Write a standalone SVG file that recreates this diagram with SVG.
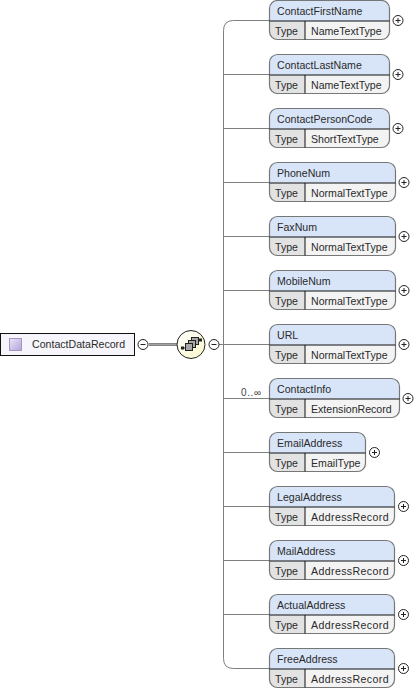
<svg xmlns="http://www.w3.org/2000/svg" width="416" height="694" viewBox="0 0 416 694">
<style>
text{font-family:"Liberation Sans",Arial,sans-serif;font-size:10.6px;fill:#2a2a2a}
.l{fill:none;stroke:#7f7f7f;stroke-width:1}
.o{fill:none;stroke:#777;stroke-width:1.2}
.d{stroke:#111;stroke-width:1;fill:none}
.t{fill:#d8e5f8}
.b{fill:#f3f3f3}
.k{fill:#e2e2e2}
.c{fill:#fff;stroke:#222;stroke-width:1}
.s{stroke:#222;stroke-width:1;fill:none}
.ar{letter-spacing:.38px}
</style>
<defs>
<g id="plus"><circle class="c" cx=".5" cy=".5" r="5"/><path class="s" d="M-2 .5H3M.5-2V3"/></g>
<g id="minus"><circle class="c" cx=".5" cy=".5" r="5"/><path class="s" d="M-2 .5H3"/></g>
<linearGradient id="ic" x1="0" y1="0" x2="1" y2="1"><stop offset="0" stop-color="#ece6f8"/><stop offset="1" stop-color="#b4a0d8"/></linearGradient>
<linearGradient id="sq" x1="0" y1="0" x2="1" y2="1"><stop offset="0" stop-color="#ffffff"/><stop offset="1" stop-color="#faf6c8"/></linearGradient>
</defs>
<g id="connectors">
<path class="l" d="M269 20.500H233.500Q223.500 20.500 223.500 30.500V658.500Q223.500 668.500 233.500 668.500H269"/>
<path class="l" d="M223.500 74.500H269M223.500 128.500H269M223.500 182.500H269M223.500 236.500H269M223.500 290.500H269M223.500 344.500H269M223.500 398.500H269M223.500 452.500H269M223.500 506.500H269M223.500 560.500H269M223.500 614.500H269"/>
<path d="M149 344.500H178" fill="none" stroke="#666" stroke-width="2.6"/>
<path d="M149 344.500H178" fill="none" stroke="#bbb" stroke-width="0.7"/>
<path class="l" d="M219 344.500H223"/>
<text x="241" y="395.500" style="font-size:10px;fill:#444;letter-spacing:.6px">0..∞</text>
</g>
<g id="ContactDataRecord">
<rect x="0.500" y="333.500" width="134" height="22" fill="#f7f5fc" stroke="#111"/>
<rect x="9.500" y="338.500" width="12" height="12" fill="url(#ic)" stroke="#a594c8"/>
<text x="32" y="348">ContactDataRecord</text>
<use href="#minus" x="142.500" y="344"/>
</g>
<g id="sequence">
<circle cx="191" cy="344.500" r="14" fill="url(#sq)" stroke="#222" stroke-width="1"/>
<path d="M182 348H186M196 340H201" stroke="#222" stroke-width="1" fill="none"/>
<rect x="181" y="346.500" width="3" height="3" fill="#222"/>
<rect x="199" y="338.500" width="3" height="3" fill="#222"/>
<rect x="191.500" y="337.500" width="7" height="7" fill="#a8a8a8" stroke="#222"/>
<rect x="188.500" y="340.500" width="7" height="7" fill="#a8a8a8" stroke="#222"/>
<rect x="185.500" y="343.500" width="7" height="7" fill="#a8a8a8" stroke="#222"/>
<use href="#minus" x="213.500" y="344"/>
</g>
<g id="ContactFirstName" transform="translate(0 0)"><path class="t" d="M269.500 21V8Q269.500 .5 277 .5H382Q389.500 .5 389.500 8V21Z"/><path class="k" d="M269.500 21H305V39.500H277Q269.500 39.500 269.500 32Z"/><path class="b" d="M305 21H389.500V32Q389.500 39.500 382 39.500H305Z"/><rect class="o" x="269.500" y=".5" width="120" height="39" rx="8"/><path class="d" d="M269.500 21H389.500M305 21V39.500"/><text x="277" y="15">ContactFirstName</text><text x="275" y="35">Type</text><text x="311" y="35">NameTextType</text><use href="#plus" x="397.500" y="20"/></g>
<g id="ContactLastName" transform="translate(0 54)"><path class="t" d="M269.500 21V8Q269.500 .5 277 .5H382Q389.500 .5 389.500 8V21Z"/><path class="k" d="M269.500 21H305V39.500H277Q269.500 39.500 269.500 32Z"/><path class="b" d="M305 21H389.500V32Q389.500 39.500 382 39.500H305Z"/><rect class="o" x="269.500" y=".5" width="120" height="39" rx="8"/><path class="d" d="M269.500 21H389.500M305 21V39.500"/><text x="277" y="15">ContactLastName</text><text x="275" y="35">Type</text><text x="311" y="35">NameTextType</text><use href="#plus" x="397.500" y="20"/></g>
<g id="ContactPersonCode" transform="translate(0 108)"><path class="t" d="M269.500 21V8Q269.500 .5 277 .5H382Q389.500 .5 389.500 8V21Z"/><path class="k" d="M269.500 21H305V39.500H277Q269.500 39.500 269.500 32Z"/><path class="b" d="M305 21H389.500V32Q389.500 39.500 382 39.500H305Z"/><rect class="o" x="269.500" y=".5" width="120" height="39" rx="8"/><path class="d" d="M269.500 21H389.500M305 21V39.500"/><text x="277" y="15">ContactPersonCode</text><text x="275" y="35">Type</text><text x="311" y="35">ShortTextType</text><use href="#plus" x="397.500" y="20"/></g>
<g id="PhoneNum" transform="translate(0 162)"><path class="t" d="M269.500 21V8Q269.500 .5 277 .5H388Q395.500 .5 395.500 8V21Z"/><path class="k" d="M269.500 21H305V39.500H277Q269.500 39.500 269.500 32Z"/><path class="b" d="M305 21H395.500V32Q395.500 39.500 388 39.500H305Z"/><rect class="o" x="269.500" y=".5" width="126" height="39" rx="8"/><path class="d" d="M269.500 21H395.500M305 21V39.500"/><text x="277" y="15">PhoneNum</text><text x="275" y="35">Type</text><text x="311" y="35">NormalTextType</text><use href="#plus" x="403.500" y="20"/></g>
<g id="FaxNum" transform="translate(0 216)"><path class="t" d="M269.500 21V8Q269.500 .5 277 .5H388Q395.500 .5 395.500 8V21Z"/><path class="k" d="M269.500 21H305V39.500H277Q269.500 39.500 269.500 32Z"/><path class="b" d="M305 21H395.500V32Q395.500 39.500 388 39.500H305Z"/><rect class="o" x="269.500" y=".5" width="126" height="39" rx="8"/><path class="d" d="M269.500 21H395.500M305 21V39.500"/><text x="277" y="15">FaxNum</text><text x="275" y="35">Type</text><text x="311" y="35">NormalTextType</text><use href="#plus" x="403.500" y="20"/></g>
<g id="MobileNum" transform="translate(0 270)"><path class="t" d="M269.500 21V8Q269.500 .5 277 .5H388Q395.500 .5 395.500 8V21Z"/><path class="k" d="M269.500 21H305V39.500H277Q269.500 39.500 269.500 32Z"/><path class="b" d="M305 21H395.500V32Q395.500 39.500 388 39.500H305Z"/><rect class="o" x="269.500" y=".5" width="126" height="39" rx="8"/><path class="d" d="M269.500 21H395.500M305 21V39.500"/><text x="277" y="15">MobileNum</text><text x="275" y="35">Type</text><text x="311" y="35">NormalTextType</text><use href="#plus" x="403.500" y="20"/></g>
<g id="URL" transform="translate(0 324)"><path class="t" d="M269.500 21V8Q269.500 .5 277 .5H388Q395.500 .5 395.500 8V21Z"/><path class="k" d="M269.500 21H305V39.500H277Q269.500 39.500 269.500 32Z"/><path class="b" d="M305 21H395.500V32Q395.500 39.500 388 39.500H305Z"/><rect class="o" x="269.500" y=".5" width="126" height="39" rx="8"/><path class="d" d="M269.500 21H395.500M305 21V39.500"/><text x="277" y="15">URL</text><text x="275" y="35">Type</text><text x="311" y="35">NormalTextType</text><use href="#plus" x="403.500" y="20"/></g>
<g id="ContactInfo" transform="translate(0 378)"><path class="t" d="M269.500 21V8Q269.500 .5 277 .5H392Q399.500 .5 399.500 8V21Z"/><path class="k" d="M269.500 21H305V39.500H277Q269.500 39.500 269.500 32Z"/><path class="b" d="M305 21H399.500V32Q399.500 39.500 392 39.500H305Z"/><rect class="o" x="269.500" y=".5" width="130" height="39" rx="8"/><path class="d" d="M269.500 21H399.500M305 21V39.500"/><text x="277" y="15">ContactInfo</text><text x="275" y="35">Type</text><text x="311" y="35">ExtensionRecord</text><use href="#plus" x="407.500" y="20"/></g>
<g id="EmailAddress" transform="translate(0 432)"><path class="t" d="M269.500 21V8Q269.500 .5 277 .5H358Q365.500 .5 365.500 8V21Z"/><path class="k" d="M269.500 21H305V39.500H277Q269.500 39.500 269.500 32Z"/><path class="b" d="M305 21H365.500V32Q365.500 39.500 358 39.500H305Z"/><rect class="o" x="269.500" y=".5" width="96" height="39" rx="8"/><path class="d" d="M269.500 21H365.500M305 21V39.500"/><text x="277" y="15">EmailAddress</text><text x="275" y="35">Type</text><text x="311" y="35">EmailType</text><use href="#plus" x="374" y="20"/></g>
<g id="LegalAddress" transform="translate(0 486)"><path class="t" d="M269.500 21V8Q269.500 .5 277 .5H387Q394.500 .5 394.500 8V21Z"/><path class="k" d="M269.500 21H305V39.500H277Q269.500 39.500 269.500 32Z"/><path class="b" d="M305 21H394.500V32Q394.500 39.500 387 39.500H305Z"/><rect class="o" x="269.500" y=".5" width="125" height="39" rx="8"/><path class="d" d="M269.500 21H394.500M305 21V39.500"/><text x="277" y="15">LegalAddress</text><text x="275" y="35">Type</text><text class="ar" x="311" y="35">AddressRecord</text><use href="#plus" x="403" y="20"/></g>
<g id="MailAddress" transform="translate(0 540)"><path class="t" d="M269.500 21V8Q269.500 .5 277 .5H387Q394.500 .5 394.500 8V21Z"/><path class="k" d="M269.500 21H305V39.500H277Q269.500 39.500 269.500 32Z"/><path class="b" d="M305 21H394.500V32Q394.500 39.500 387 39.500H305Z"/><rect class="o" x="269.500" y=".5" width="125" height="39" rx="8"/><path class="d" d="M269.500 21H394.500M305 21V39.500"/><text x="277" y="15">MailAddress</text><text x="275" y="35">Type</text><text class="ar" x="311" y="35">AddressRecord</text><use href="#plus" x="403" y="20"/></g>
<g id="ActualAddress" transform="translate(0 594)"><path class="t" d="M269.500 21V8Q269.500 .5 277 .5H387Q394.500 .5 394.500 8V21Z"/><path class="k" d="M269.500 21H305V39.500H277Q269.500 39.500 269.500 32Z"/><path class="b" d="M305 21H394.500V32Q394.500 39.500 387 39.500H305Z"/><rect class="o" x="269.500" y=".5" width="125" height="39" rx="8"/><path class="d" d="M269.500 21H394.500M305 21V39.500"/><text x="277" y="15">ActualAddress</text><text x="275" y="35">Type</text><text class="ar" x="311" y="35">AddressRecord</text><use href="#plus" x="403" y="20"/></g>
<g id="FreeAddress" transform="translate(0 648)"><path class="t" d="M269.500 21V8Q269.500 .5 277 .5H387Q394.500 .5 394.500 8V21Z"/><path class="k" d="M269.500 21H305V39.500H277Q269.500 39.500 269.500 32Z"/><path class="b" d="M305 21H394.500V32Q394.500 39.500 387 39.500H305Z"/><rect class="o" x="269.500" y=".5" width="125" height="39" rx="8"/><path class="d" d="M269.500 21H394.500M305 21V39.500"/><text x="277" y="15">FreeAddress</text><text x="275" y="35">Type</text><text class="ar" x="311" y="35">AddressRecord</text><use href="#plus" x="403" y="20"/></g>
</svg>
